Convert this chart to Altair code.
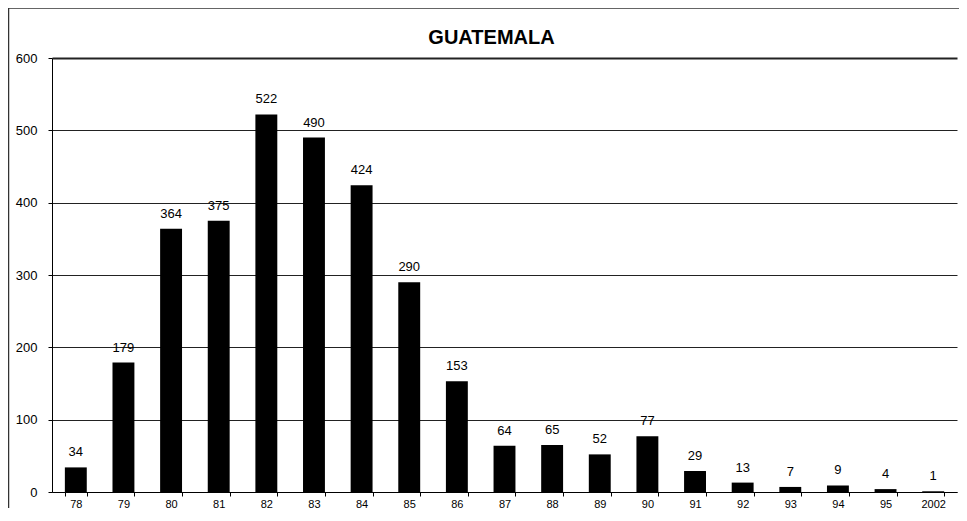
import altair as alt
import pandas as pd

years = ["78", "79", "80", "81", "82", "83", "84", "85", "86", "87", "88", "89",
         "90", "91", "92", "93", "94", "95", "2002"]
counts = [34, 179, 364, 375, 522, 490, 424, 290, 153, 64, 65, 52, 77, 29, 13, 7, 9, 4, 1]
y_ticks = [0, 100, 200, 300, 400, 500, 600]
title_text = ["GUATEMALA"]

df = pd.DataFrame({"year": years, "count": counts})

FONT = "Liberation Sans"
W, H = 905, 434

x_enc = alt.X("year:N", sort=years, title=None,
              scale=alt.Scale(paddingInner=0.54, paddingOuter=0.27),
              axis=alt.Axis(labelAngle=0, tickBand="extent", tickSize=4, tickColor="#000",
                            domainColor="#000", labelFontSize=11, labelPadding=2,
                            labelColor="#000", labelFont=FONT, grid=False))
y_enc = alt.Y("count:Q", title=None,
              scale=alt.Scale(domain=[0, 600], nice=False),
              axis=alt.Axis(values=y_ticks, tickSize=4, tickColor="#000", domainColor="#000",
                            labelFontSize=13, labelPadding=11, labelColor="#000",
                            labelFont=FONT, grid=True, gridColor="#222",
                            gridWidth=alt.condition("datum.value == 600", alt.value(2), alt.value(1))))

bars = alt.Chart(df).mark_bar(color="#000").encode(x=x_enc, y=y_enc)
labels = alt.Chart(df).mark_text(baseline="alphabetic", dy=-11, fontSize=13, font=FONT,
                                 color="#000").encode(
    x=alt.X("year:N", sort=years), y="count:Q", text="count:Q")

frame = alt.Chart(pd.DataFrame({"a": [0]})).mark_rect(
    fill=None, fillOpacity=0, stroke="#333", strokeWidth=1.5).encode(
    x=alt.value(-43.5), x2=alt.value(W + 100), y=alt.value(-50), y2=alt.value(H + 100))

title = alt.Chart(pd.DataFrame({"t": title_text})).mark_text(
    fontSize=20, fontWeight="bold", font=FONT, color="#000", baseline="middle",
    align="center").encode(x=alt.value(439.5), y=alt.value(-20.5), text="t:N")

chart = alt.layer(frame, bars, labels, title).properties(
    width=W, height=H,
    autosize=alt.AutoSizeParams(type="none"),
    padding={"left": 44, "top": 50, "right": 2, "bottom": 16},
).configure_view(stroke=None)

chart.save("out.html", embed_options={"renderer": "svg", "actions": False})
